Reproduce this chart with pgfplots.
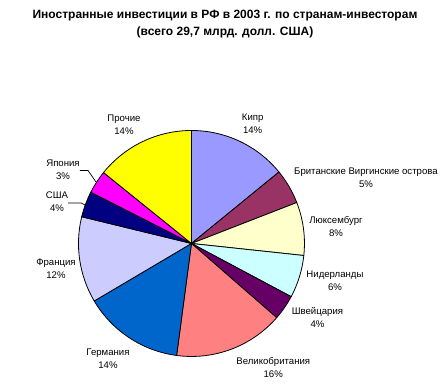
\documentclass[border=0pt]{standalone}
\usepackage{fontspec}
\setmainfont{Liberation Sans}
\usepackage{pgfplots}
\usepackage{pgfplotstable}
\pgfplotsset{compat=1.18}

\definecolor{cA}{HTML}{9999FF}
\definecolor{cB}{HTML}{993366}
\definecolor{cC}{HTML}{FFFFCC}
\definecolor{cD}{HTML}{CCFFFF}
\definecolor{cE}{HTML}{660066}
\definecolor{cF}{HTML}{FF8080}
\definecolor{cG}{HTML}{0066CC}
\definecolor{cH}{HTML}{CCCCFF}
\definecolor{cI}{HTML}{000080}
\definecolor{cJ}{HTML}{FF00FF}
\definecolor{cK}{HTML}{FFFF00}

% share of each investor country, %, clockwise from 12 o'clock
\pgfplotstableread{
value col
14.1 cA
5.0  cB
7.6  cC
6.1  cD
3.6  cE
15.7 cF
14.4 cG
12.3 cH
3.7  cI
3.3  cJ
14.2 cK
}\piedata

\newcommand\lab{\fontsize{9.6bp}{13bp}\selectfont}

\begin{document}
\begin{tikzpicture}
\begin{axis}[
  x=1bp, y=1bp, y dir=reverse,
  xmin=0, xmax=441, ymin=0, ymax=391,
  hide axis, clip=false,
]
\path (axis cs:0,0) rectangle (axis cs:441,391);
\xdef\cum{0}
\pgfplotsinvokeforeach{0,...,10}{
  \pgfplotstablegetelem{#1}{value}\of\piedata \let\v\pgfplotsretval
  \pgfplotstablegetelem{#1}{col}\of\piedata \let\c\pgfplotsretval
  \pgfmathsetmacro\a{90-3.6*\cum}
  \pgfmathsetmacro\cumnew{\cum+\v}
  \xdef\cum{\cumnew}
  \pgfmathsetmacro\b{90-3.6*\cum}
  \edef\temp{\noexpand\filldraw[fill=\c, draw=black, line width=0.8bp, line join=round] (axis cs:191.5,243.5) -- ++(\a:113bp) arc[start angle=\a, end angle=\b, radius=113bp] -- cycle;}
  \temp
}

\node[font=\fontsize{12bp}{17bp}\selectfont\bfseries, align=center] at (axis cs:225,24.5)
  {Иностранные инвестиции в РФ в 2003 г. по странам-инвесторам\\(всего 29,7 млрд. долл. США)};

\node[font=\lab, align=center] at (axis cs:252.7,123.5) {Кипр\\14\%};
\node[font=\lab, align=center] at (axis cs:366,178) {Британские Виргинские острова\\5\%};
\node[font=\lab, align=center] at (axis cs:336,227) {Люксембург\\8\%};
\node[font=\lab, align=center] at (axis cs:335,280.5) {Нидерланды\\6\%};
\node[font=\lab, align=center] at (axis cs:317.5,317.5) {Швейцария\\4\%};
\node[font=\lab, align=center] at (axis cs:273.3,367.5) {Великобритания\\16\%};
\node[font=\lab, align=center] at (axis cs:108,358.5) {Германия\\14\%};
\node[font=\lab, align=center] at (axis cs:56,268.5) {Франция\\12\%};
\node[font=\lab, align=center] at (axis cs:57,202) {США\\4\%};
\node[font=\lab, align=center] at (axis cs:63,170) {Япония\\3\%};
\node[font=\lab, align=center] at (axis cs:124,124.5) {Прочие\\14\%};

\draw[black, line width=0.7bp] (axis cs:80,170.5) -- (axis cs:88,170.5) -- (axis cs:96,182);
\draw[black, line width=0.7bp] (axis cs:68,203) -- (axis cs:81,203) -- (axis cs:86,205.5);
\end{axis}
\end{tikzpicture}
\end{document}
